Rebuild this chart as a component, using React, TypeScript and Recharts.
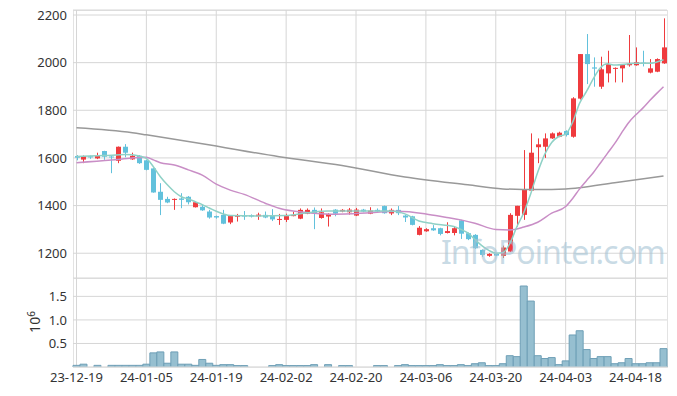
import * as React from "react"
import { ComposedChart, BarChart, Bar, Line, XAxis, YAxis, CartesianGrid } from "recharts"

const dates = [
  "23-12-19", "23-12-20", "23-12-21", "23-12-22", "23-12-26", "23-12-27", "23-12-28", "24-01-02", "24-01-03", "24-01-04",
  "24-01-05", "24-01-08", "24-01-09", "24-01-10", "24-01-11", "24-01-12", "24-01-15", "24-01-16", "24-01-17", "24-01-18",
  "24-01-19", "24-01-22", "24-01-23", "24-01-24", "24-01-25", "24-01-26", "24-01-29", "24-01-30", "24-01-31", "24-02-01",
  "24-02-02", "24-02-05", "24-02-06", "24-02-07", "24-02-08", "24-02-13", "24-02-14", "24-02-15", "24-02-16", "24-02-19",
  "24-02-20", "24-02-21", "24-02-22", "24-02-23", "24-02-26", "24-02-27", "24-02-28", "24-02-29", "24-03-04", "24-03-05",
  "24-03-06", "24-03-07", "24-03-08", "24-03-11", "24-03-12", "24-03-13", "24-03-14", "24-03-15", "24-03-18", "24-03-19",
  "24-03-20", "24-03-21", "24-03-22", "24-03-25", "24-03-26", "24-03-27", "24-03-28", "24-03-29", "24-04-01", "24-04-02",
  "24-04-03", "24-04-04", "24-04-05", "24-04-08", "24-04-09", "24-04-11", "24-04-12", "24-04-15", "24-04-16", "24-04-17",
  "24-04-18", "24-04-19", "24-04-22", "24-04-23", "24-04-24",
]

const opens = [
  1608, 1593, 1607, 1598, 1629, 1606, 1588, 1647, 1594, 1609,
  1590, 1556, 1458, 1428, 1424, 1430, 1437, 1393, 1395, 1375,
  1356, 1361, 1329, 1353, 1358, 1360, 1355, 1361, 1356, 1341,
  1340, 1357, 1345, 1366, 1382, 1348, 1354, 1383, 1375, 1372,
  1358, 1383, 1366, 1382, 1398, 1367, 1382, 1358, 1355, 1277,
  1292, 1305, 1305, 1285, 1285, 1338, 1284, 1277, 1214, 1189,
  1197, 1189, 1207, 1357, 1361, 1463, 1645, 1647, 1682, 1689,
  1713, 1689, 1849, 2036, 1980, 1899, 1955, 1975, 1976, 1989,
  1989, 2000, 1958, 1962, 1997,
]
const highs = [
  1612, 1610, 1610, 1622, 1630, 1608, 1648, 1658, 1622, 1612,
  1592, 1557, 1494, 1437, 1430, 1452, 1440, 1415, 1404, 1382,
  1358, 1382, 1360, 1365, 1377, 1363, 1370, 1375, 1385, 1365,
  1366, 1375, 1388, 1388, 1392, 1388, 1368, 1385, 1385, 1390,
  1390, 1386, 1393, 1388, 1400, 1388, 1398, 1360, 1357, 1314,
  1305, 1318, 1307, 1330, 1310, 1340, 1287, 1280, 1216, 1200,
  1199, 1232, 1368, 1399, 1633, 1703, 1682, 1703, 1707, 1710,
  1716, 1855, 2036, 2120, 2022, 2025, 2050, 1980, 1992, 2116,
  2064, 2050, 2015, 2018, 2186,
]
const lows = [
  1590, 1578, 1596, 1595, 1592, 1536, 1578, 1603, 1592, 1575,
  1548, 1454, 1360, 1410, 1382, 1389, 1405, 1392, 1378, 1345,
  1345, 1322, 1322, 1333, 1340, 1350, 1340, 1347, 1335, 1319,
  1331, 1355, 1343, 1364, 1301, 1345, 1312, 1355, 1372, 1362,
  1356, 1372, 1364, 1370, 1366, 1360, 1360, 1331, 1317, 1275,
  1290, 1294, 1275, 1283, 1275, 1260, 1255, 1218, 1185, 1185,
  1188, 1180, 1205, 1312, 1340, 1460, 1578, 1600, 1680, 1687,
  1690, 1685, 1845, 1910, 1899, 1890, 1917, 1917, 1917, 1983,
  1987, 1984, 1955, 1960, 1995,
]
const closes = [
  1601, 1608, 1602, 1609, 1605, 1603, 1647, 1622, 1609, 1578,
  1550, 1455, 1424, 1413, 1428, 1424, 1414, 1414, 1380, 1350,
  1350, 1324, 1356, 1360, 1354, 1354, 1362, 1350, 1342, 1344,
  1356, 1360, 1382, 1382, 1368, 1372, 1365, 1366, 1382, 1383,
  1383, 1375, 1379, 1376, 1368, 1382, 1368, 1350, 1319, 1307,
  1301, 1296, 1281, 1293, 1305, 1282, 1259, 1221, 1193, 1197,
  1190, 1224, 1361, 1399, 1466, 1622, 1657, 1682, 1703, 1706,
  1696, 1850, 2036, 1994, 1975, 1972, 1994, 1978, 1990, 1995,
  2002, 1995, 1976, 2015, 2064,
]

const volumes = [
  35000, 60000, 0, 35000, 0, 35000, 35000, 35000, 35000, 35000,
  60000, 300000, 320000, 80000, 320000, 60000, 60000, 35000, 160000, 80000,
  35000, 50000, 50000, 30000, 30000, 0, 0, 0, 30000, 50000,
  30000, 30000, 30000, 30000, 50000, 0, 50000, 0, 30000, 30000,
  0, 0, 0, 30000, 30000, 0, 30000, 50000, 30000, 30000,
  30000, 30000, 50000, 30000, 30000, 50000, 30000, 70000, 90000, 30000,
  30000, 70000, 240000, 220000, 1720000, 1400000, 240000, 180000, 200000, 50000,
  130000, 680000, 770000, 370000, 180000, 220000, 220000, 70000, 90000, 180000,
  70000, 70000, 90000, 90000, 390000,
]

// moving averages: [candle index, value]
const ma5Points = [
  [0, 1606], [4, 1610], [7, 1614], [9, 1608], [10, 1598], [11, 1563], [12, 1521], [13, 1487],
  [14, 1458], [15, 1437], [16, 1428], [17, 1416], [18, 1404], [19, 1390], [20, 1376], [21, 1365],
  [22, 1358], [26, 1356], [30, 1358], [33, 1370], [36, 1377], [45, 1377], [47, 1365], [49, 1335],
  [51, 1324], [54, 1312], [55, 1300], [56, 1285], [57, 1258], [58, 1232], [59, 1212], [60, 1200],
  [61, 1202], [62, 1240], [63, 1310], [64, 1370], [65, 1450], [66, 1540], [67, 1615], [68, 1665],
  [69, 1690], [70, 1700], [71, 1750], [72, 1830], [73, 1880], [74, 1935], [75, 1980], [76, 1995],
  [77, 1990], [80, 1997], [82, 1997], [84, 2012],
]
const ma20Points = [
  [0, 1580], [5, 1591], [8, 1600], [10, 1603], [11, 1592], [12, 1580], [14, 1570], [16, 1550],
  [18, 1528], [20, 1490], [22, 1465], [24, 1447], [27, 1410], [29, 1389], [31, 1377], [34, 1368],
  [37, 1364], [42, 1370], [46, 1376], [50, 1365], [53, 1350], [55, 1340], [57, 1326], [60, 1300],
  [62, 1298], [64, 1310], [66, 1330], [68, 1368], [70, 1396], [71, 1430], [72, 1470], [73, 1505],
  [74, 1540], [75, 1580], [76, 1620], [77, 1660], [78, 1705], [79, 1748], [80, 1780], [81, 1808],
  [82, 1840], [83, 1870], [84, 1899],
]
const ma120Points = [
  [0, 1727], [8, 1706], [10, 1697], [18, 1660], [29, 1605], [38, 1568], [47, 1520], [56, 1487],
  [61, 1470], [66, 1467], [70, 1470], [72, 1475], [77, 1496], [84, 1524],
]

const priceTicks = [1200, 1400, 1600, 1800, 2000, 2200]
const volumeTicks = [500000, 1000000, 1500000]

const RED = "#ef3b3e"
const BLUE = "#62c1dc"
const GRID = "#d6d6d6"
const FRAME = "#e3e3e3"

const lookup = (pts: number[][], i: number) => {
  const p = pts.find(q => q[0] === i)
  return p ? p[1] : null
}

const rows = dates.map((date, i) => ({
  date,
  open: opens[i],
  high: highs[i],
  low: lows[i],
  close: closes[i],
  volume: volumes[i],
  ma5: lookup(ma5Points, i),
  ma20: lookup(ma20Points, i),
  ma120: lookup(ma120Points, i),
}))

const Candle = (props: any) => {
  const { x, y, width, height, payload } = props
  const { open, close, high, low } = payload
  const color = close >= open ? RED : BLUE
  const top = Math.min(y, y + height)
  const h = Math.abs(height)
  const ppu = high > low ? h / (high - low) : 0
  const bodyTop = top + (high - Math.max(open, close)) * ppu
  const bodyH = Math.max(1, Math.abs(open - close) * ppu)
  const cx = Math.round(x + width / 2) + 0.5
  return (
    <g>
      <line x1={cx} x2={cx} y1={top} y2={top + h} stroke={color} strokeWidth={1} />
      <rect x={cx - width / 2} y={bodyTop} width={width} height={bodyH} fill={color} />
    </g>
  )
}

// vertical grid marks at every 10th trading day, centred in the category band
const tenthDays = (props: any) => {
  const off = props?.offset
  if (!off) return []
  const band = off.width / dates.length
  return dates.map((_, i) => i).filter(i => i % 10 === 0).map(i => off.left + (i + 0.5) * band)
}

const tickStyle = { fontSize: 13, fill: "#333", fontFamily: "'Noto Sans', sans-serif" }

export default function App() {
  return (
    <div style={{ position: "absolute", left: 0, top: 0, width: 677, height: 396, background: "#fff" }}>
      <div style={{ position: "absolute", left: 73, top: 10, width: 595, height: 358, boxSizing: "border-box", border: `1px solid ${FRAME}` }} />
      <div style={{ position: "absolute", left: 73, top: 278, width: 595, height: 1, background: FRAME }} />

      <div style={{ position: "absolute", left: 0, top: 0 }}>
        <ComposedChart width={677} height={278} data={rows} margin={{ top: 10, right: 10, left: 0, bottom: 0 }}>
          <CartesianGrid
            stroke={GRID}
            horizontal={{ strokeDasharray: "7 63" } as any}
            vertical={{ strokeDasharray: "0 1.5 7 40.14" } as any}
            verticalCoordinatesGenerator={tenthDays}
          />
          <XAxis dataKey="date" hide />
          <YAxis
            width={73}
            domain={[1096, 2221]}
            ticks={priceTicks}
            allowDataOverflow
            tickLine={false}
            tickSize={4}
            tickMargin={2}
            axisLine={false}
            tick={tickStyle}
          />
          <Line type="monotone" dataKey="ma120" stroke="#999999" strokeWidth={1.5} dot={false} connectNulls isAnimationActive={false} />
          <Line type="monotone" dataKey="ma20" stroke="#c98ec6" strokeWidth={1.5} dot={false} connectNulls isAnimationActive={false} />
          <Line type="monotone" dataKey="ma5" stroke="#8fd1c6" strokeWidth={1.5} dot={false} connectNulls isAnimationActive={false} />
          <Bar dataKey={(d: any) => [d.low, d.high]} barSize={5} shape={Candle} isAnimationActive={false} />
        </ComposedChart>
      </div>

      <div
        style={{
          position: "absolute", left: 441, top: 233, fontSize: 32, lineHeight: "38px", letterSpacing: -1,
          fontFamily: "'Noto Sans', sans-serif", color: "rgba(165,195,212,0.6)", whiteSpace: "nowrap",
        }}
      >
        InfoPointer.com
      </div>

      <div style={{ position: "absolute", left: 0, top: 278 }}>
        <BarChart width={677} height={118} data={rows} margin={{ top: 0, right: 10, left: 0, bottom: 0 }} barCategoryGap={0}>
          <CartesianGrid
            stroke={GRID}
            horizontal={{ strokeDasharray: "7 63" } as any}
            vertical={{ strokeDasharray: "0 14.9 7 16.54" } as any}
            verticalCoordinatesGenerator={tenthDays}
          />
          <XAxis
            dataKey="date"
            interval={9}
            height={29}
            tickLine={false}
            tickSize={4}
            tickMargin={2}
            axisLine={{ stroke: FRAME }}
            tick={tickStyle}
          />
          <YAxis
            width={73}
            domain={[0, 1890000]}
            ticks={volumeTicks}
            allowDataOverflow
            tickLine={false}
            tickSize={4}
            tickMargin={2}
            axisLine={false}
            tick={tickStyle}
            tickFormatter={(v: number) => (v / 1e6).toFixed(1)}
          />
          <Bar dataKey="volume" fill="#96bfd0" stroke="#6e9fb6" strokeWidth={1} isAnimationActive={false} />
        </BarChart>
      </div>

      <div
        style={{
          position: "absolute", left: 33, top: 322, transform: "translate(-50%, -50%) rotate(-90deg)",
          fontSize: 14, fontFamily: "'Noto Sans', sans-serif", color: "#333", whiteSpace: "nowrap", lineHeight: "16px",
        }}
      >
        10<sup style={{ fontSize: 10 }}>6</sup>
      </div>
    </div>
  )
}
